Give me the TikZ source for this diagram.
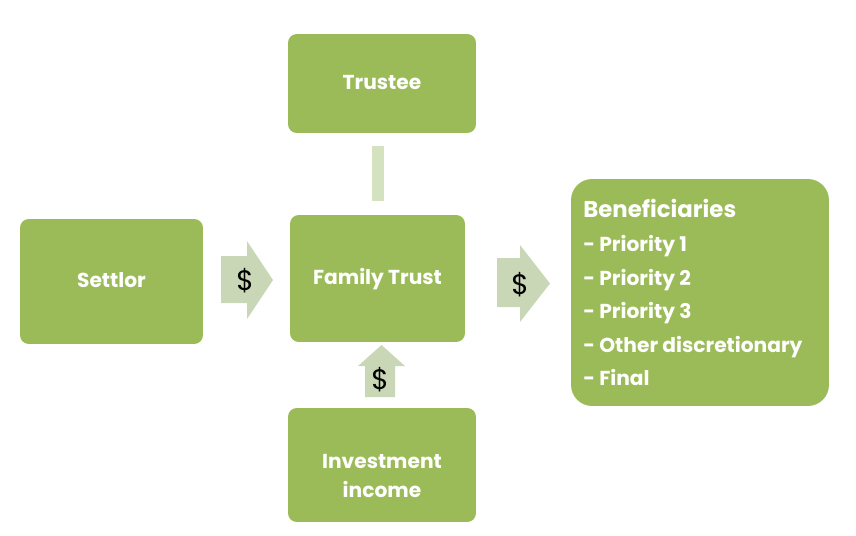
\documentclass[tikz,border=0pt]{standalone}
\usepackage{fontspec}
\setmainfont{Poppins}
\usetikzlibrary{positioning}

\definecolor{hijau}{HTML}{9BBB59}
\definecolor{pucat}{HTML}{CAD7B6}
\definecolor{garis}{HTML}{D4E2C0}

\begin{document}
\begin{tikzpicture}[x=0.02cm, y=-0.02cm, font=\bfseries\fontsize{11.5pt}{16pt}\selectfont,
      kotak/.style={fill=hijau, rounded corners=5pt, text=white, align=center, inner sep=2pt, text height=0.72em, text depth=0pt},
      uang/.style={font=\fontsize{16pt}{17pt}\selectfont, text=black, inner sep=0pt},
      daftar/.style={text=white, anchor=base west, inner sep=0pt}]
      \useasboundingbox (0,0) rectangle (856,535);

      % kotak utama
      \node[kotak, minimum width=3.76cm, minimum height=1.98cm] (trustee) at (382,83.5) {Trustee};
      \node[kotak, minimum width=3.66cm, minimum height=2.5cm] (settlor) at (111.5,281.5) {Settlor};
      \node[kotak, minimum width=3.5cm, minimum height=2.54cm] (trust) at (377.5,278.5) {Family Trust};
      \node[kotak, minimum width=3.76cm, minimum height=2.28cm, text height=1.28cm] (income) at (382,465) {Investment\\ income};
      \node[kotak, rounded corners=12pt, minimum width=5.16cm, minimum height=4.54cm] (benef) at (700,292.5) {};

      % penghubung trustee
      \fill[garis] (372,146) rectangle (384,201);

      % panah uang: settlor -> trust
      \fill[pucat] (221,256) -- (247,256) -- (247,241) -- (273,280) -- (247,319) -- (247,303) -- (221,303) -- cycle;
      \node[uang] (uang1) at (245,281) {\$};

      % panah uang: trust -> beneficiaries
      \fill[pucat] (497,258) -- (520,258) -- (520,245) -- (550,283.5) -- (520,322) -- (520,307) -- (497,307) -- cycle;
      \node[uang] (uang2) at (520,285) {\$};

      % panah uang: income -> trust
      \fill[pucat] (365,397) -- (365,366) -- (358,366) -- (381.5,345) -- (405,366) -- (395,366) -- (395,397) -- cycle;
      \node[uang] (uang3) at (380,380) {\$};

      % isi beneficiaries
      \node[daftar, font=\bfseries\fontsize{13pt}{14pt}\selectfont] (judul) at (583,217) {Beneficiaries};
      \node[daftar] (p1) at (583,251) {- Priority 1};
      \node[daftar] (p2) at (583,285) {- Priority 2};
      \node[daftar] (p3) at (583,318) {- Priority 3};
      \node[daftar] (p4) at (583,352) {- Other discretionary};
      \node[daftar] (p5) at (583,385) {- Final};
    \end{tikzpicture}
\end{document}
